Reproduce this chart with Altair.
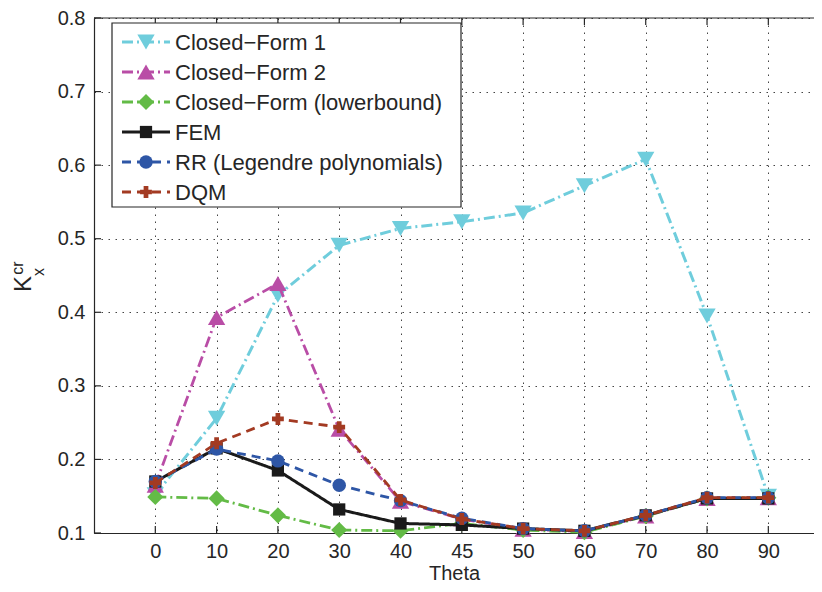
import json
import altair as alt
import pandas as pd

# ---- data ----
theta_labels = ["0", "10", "20", "30", "40", "45", "50", "60", "70", "80", "90"]
series_names = [
    "Closed\u2212Form 1",
    "Closed\u2212Form 2",
    "Closed\u2212Form (lowerbound)",
    "FEM",
    "RR (Legendre polynomials)",
    "DQM",
]
cf1 = [0.152, 0.256, 0.423, 0.491, 0.514, 0.523, 0.535, 0.572, 0.608, 0.395, 0.150]
cf2 = [0.165, 0.393, 0.439, 0.241, 0.143, 0.119, 0.105, 0.102, 0.123, 0.147, 0.148]
lower = [0.149, 0.147, 0.124, 0.104, 0.103, 0.113, 0.104, 0.101, 0.123, 0.147, 0.148]
fem = [0.170, 0.215, 0.185, 0.132, 0.113, 0.111, 0.106, 0.103, 0.124, 0.147, 0.147]
rr = [0.170, 0.214, 0.198, 0.165, 0.144, 0.120, 0.106, 0.103, 0.124, 0.148, 0.148]
dqm = [0.168, 0.222, 0.255, 0.244, 0.145, 0.119, 0.106, 0.103, 0.124, 0.148, 0.148]
y_ticks = [0.1, 0.2, 0.3, 0.4, 0.5, 0.6, 0.7, 0.8]

values = [cf1, cf2, lower, fem, rr, dqm]

# ---- styles ----
styles = [
    dict(color="#6FCDDC", dash=[11, 4, 2, 4], shape="triangle-down", size=300, width=3),
    dict(color="#B94DA6", dash=[11, 4, 2, 4], shape="triangle-up", size=300, width=2.8),
    dict(color="#63BB46", dash=[11, 4, 2, 4], shape="diamond", size=260, width=2.8),
    dict(color="#1A1A1A", dash=[1, 0], shape="square", size=150, width=3),
    dict(color="#2E56A6", dash=[9, 6], shape="circle", size=180, width=2.8),
    dict(color="#A33A22", dash=[9, 6], shape="cross", size=140, width=2.8),
]

FONT = "Liberation Sans"
INK = "#262626"
W, H = 720, 515

label_expr = json.dumps(theta_labels) + "[datum.value]"
xscale = alt.Scale(domain=[-1, 10.745], nice=False, zero=False)
yscale = alt.Scale(domain=[0.1, 0.8], nice=False, zero=False)
xaxis = alt.Axis(
    values=list(range(len(theta_labels))), labelExpr=label_expr, title="Theta",
    grid=True, gridColor="#444444", gridDash=[1.5, 5.5], gridWidth=1,
    tickSize=0, labelPadding=8, labelFontSize=20, labelFont=FONT, labelColor=INK,
    titleFont=FONT, titleFontSize=20, titleFontWeight="normal", titleColor=INK,
    titlePadding=2, domainColor=INK, domainWidth=1.2,
)
yaxis = alt.Axis(
    values=y_ticks, format=".1f", title=None,
    grid=True, gridColor="#444444", gridDash=[1.5, 5.5], gridWidth=1,
    tickSize=0, labelPadding=9, labelFontSize=20, labelFont=FONT, labelColor=INK,
    domainColor=INK, domainWidth=1.2,
)


def X():
    return alt.X("idx:Q", scale=xscale, axis=xaxis)


def Y():
    return alt.Y("val:Q", scale=yscale, axis=yaxis)


layers = []

# inward ticks (bottom/top for x, left for y)
tick_x_df = pd.DataFrame({"idx": list(range(len(theta_labels)))})
tick_y_df = pd.DataFrame({"val": y_ticks})
layers.append(alt.Chart(tick_x_df).mark_rule(color=INK, strokeWidth=1.2).encode(
    x=X(), y=alt.value(H), y2=alt.value(H - 7)))
layers.append(alt.Chart(tick_x_df).mark_rule(color=INK, strokeWidth=1.2).encode(
    x=X(), y=alt.value(0), y2=alt.value(7)))
layers.append(alt.Chart(tick_y_df).mark_rule(color=INK, strokeWidth=1.2).encode(
    y=Y(), x=alt.value(0), x2=alt.value(7)))
# top frame line
layers.append(alt.Chart(pd.DataFrame({"a": [0]})).mark_rule(color=INK, strokeWidth=1.2).encode(
    x=alt.value(0), x2=alt.value(W), y=alt.value(0)))

# series
for name, vals, st in zip(series_names, values, styles):
    df = pd.DataFrame({"idx": list(range(len(theta_labels))), "val": vals, "series": name})
    layers.append(alt.Chart(df).mark_line(
        color=st["color"], strokeDash=st["dash"], strokeWidth=st["width"]).encode(x=X(), y=Y()))
    layers.append(alt.Chart(df).mark_point(
        shape=st["shape"], size=st["size"], filled=True, color=st["color"], opacity=1).encode(x=X(), y=Y()))

# legend box
layers.append(alt.Chart(pd.DataFrame({"a": [0]})).mark_rect(
    fill="white", stroke=INK, strokeWidth=1.2).encode(
    x=alt.value(18), x2=alt.value(367), y=alt.value(5), y2=alt.value(189)))
for i, (name, st) in enumerate(zip(series_names, styles)):
    ly = 24 + 30 * i
    ldf = pd.DataFrame({"name": [name]})
    layers.append(alt.Chart(ldf).mark_rule(
        color=st["color"], strokeDash=st["dash"], strokeWidth=st["width"]).encode(
        x=alt.value(28), x2=alt.value(76), y=alt.value(ly)))
    layers.append(alt.Chart(ldf).mark_point(
        shape=st["shape"], size=st["size"], filled=True, color=st["color"], opacity=1).encode(
        x=alt.value(52), y=alt.value(ly)))
    layers.append(alt.Chart(ldf).mark_text(
        align="left", baseline="middle", font=FONT, fontSize=22, color=INK).encode(
        x=alt.value(81), y=alt.value(ly + 1), text="name:N"))

# y-axis title  K_x^cr
tdf = pd.DataFrame({"a": [0]})
layers.append(alt.Chart(tdf).mark_text(
    text="K", angle=270, align="center", baseline="middle", font=FONT, fontSize=24, color=INK).encode(
    x=alt.value(-70), y=alt.value(266)))
layers.append(alt.Chart(tdf).mark_text(
    text="cr", angle=270, align="center", baseline="middle", font=FONT, fontSize=16, color=INK).encode(
    x=alt.value(-76), y=alt.value(250)))
layers.append(alt.Chart(tdf).mark_text(
    text="x", angle=270, align="center", baseline="middle", font=FONT, fontSize=16, color=INK).encode(
    x=alt.value(-55), y=alt.value(254)))

chart = alt.layer(*layers).properties(
    width=W, height=H,
    padding={"left": 86, "top": 10, "right": 0, "bottom": 51},
    autosize=alt.AutoSizeParams(type="none"),
    background="white",
).configure_view(stroke=None)

chart.save("out.html", embed_options={"renderer": "svg", "actions": False})
